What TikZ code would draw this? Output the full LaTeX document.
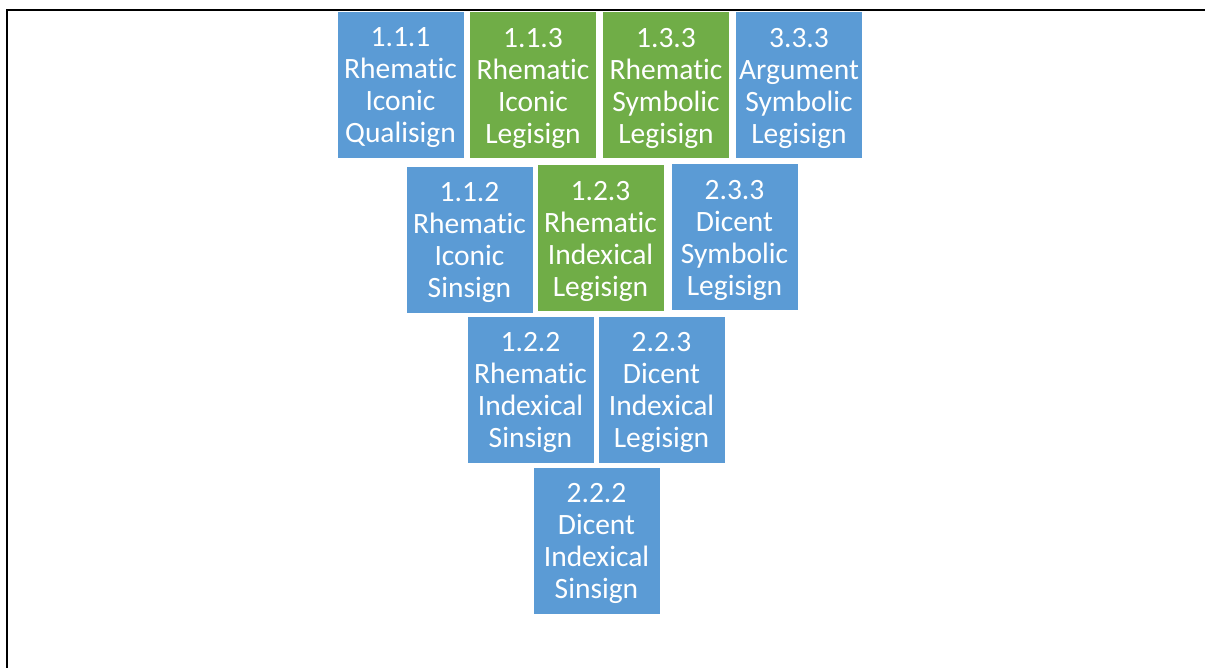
\documentclass[tikz,border=0pt]{standalone}
\usepackage{fontspec}
\setmainfont[Ligatures=NoCommon]{Carlito}
\definecolor{signblue}{HTML}{5B9BD5}
\definecolor{signgreen}{HTML}{70AD47}
\tikzset{
  signbox/.style={rectangle, minimum width=127pt, minimum height=147pt, inner sep=0pt,
    draw=white, line width=1pt, text=white, align=center, text depth=0pt,
    font=\fontsize{29.5}{32}\selectfont},
  bluebox/.style={signbox, fill=signblue},
  greenbox/.style={signbox, fill=signgreen},
  frameline/.style={black, line width=2.2pt}
}
\begin{document}
\begin{tikzpicture}[x=1pt,y=-1pt]
\useasboundingbox (0,0) rectangle (1205,668);
\coordinate (ftr) at (1205,10);
\coordinate (ftl) at (7,10);
\coordinate (fbl) at (7,668);
\draw[frameline] (ftr) -- (ftl) -- (fbl);
% row 1
\node[bluebox]  (s111) at (400.5,85.5) {1.1.1\\Rhematic\\Iconic\\Qualisign};
\node[greenbox] (s113) at (533,85.5) {1.1.3\\Rhematic\\Iconic\\Legisign};
\node[greenbox] (s133) at (666,85.5) {1.3.3\\Rhematic\\Symbolic\\Legisign};
\node[bluebox]  (s333) at (799,85.5) {3.3.3\\Argument\\Symbolic\\Legisign};
% row 2
\node[bluebox]  (s112) at (469.5,240) {1.1.2\\Rhematic\\Iconic\\Sinsign};
\node[greenbox] (s123) at (600.5,238.5) {1.2.3\\Rhematic\\Indexical\\Legisign};
\node[bluebox]  (s233) at (734.5,237.5) {2.3.3\\Dicent\\Symbolic\\Legisign};
% row 3
\node[bluebox]  (s122) at (530.5,390) {1.2.2\\Rhematic\\Indexical\\Sinsign};
\node[bluebox]  (s223) at (661.5,390) {2.2.3\\Dicent\\Indexical\\Legisign};
% row 4
\node[bluebox]  (s222) at (596.5,540.5) {2.2.2\\Dicent\\Indexical\\Sinsign};
\end{tikzpicture}
\end{document}
